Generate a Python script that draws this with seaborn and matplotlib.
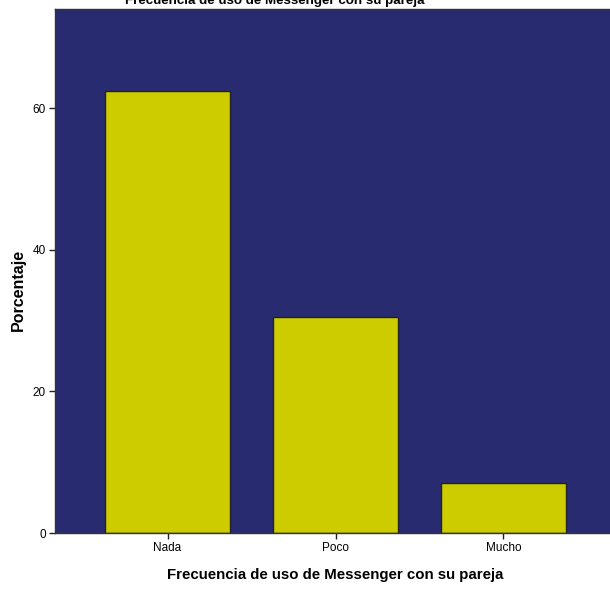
import pandas as pd
import seaborn as sns
import matplotlib.pyplot as plt

categorias = ["Nada", "Poco", "Mucho"]
porcentajes = [62.4, 30.5, 7.1]
yticks = [0, 20, 40, 60]

df = pd.DataFrame({"categoria": categorias, "porcentaje": porcentajes})

sns.set_style("ticks")
plt.rcParams['font.family'] = ['Liberation Sans', 'DejaVu Sans']
plt.rcParams['text.color'] = 'black'
plt.rcParams['axes.labelcolor'] = 'black'
plt.rcParams['xtick.labelcolor'] = 'black'
plt.rcParams['ytick.labelcolor'] = 'black'

fig = plt.figure(figsize=(6.1, 5.93), dpi=100)
ax = fig.add_axes([55 / 610, 60 / 593, 561 / 610, 524 / 593])
ax.set_facecolor("#292b70")

sns.barplot(data=df, x="categoria", y="porcentaje", color="#cccc00",
            saturation=1, width=0.744, edgecolor="#222222", linewidth=1, ax=ax)

ax.set_xlim(-0.67, 2.67)
ax.set_ylim(0, 74)
ax.set_yticks(yticks)
ax.tick_params(axis="both", length=4.5, width=1, color="#222222", labelsize=8.5, pad=2)
for s in ax.spines.values():
    s.set_color("#333333")
    s.set_linewidth(1)

ax.set_xlabel("Frecuencia de uso de Messenger con su pareja",
              fontsize=10.8, fontweight="bold", labelpad=10)
ax.set_ylabel("Porcentaje", fontsize=11.5, fontweight="bold")
ax.yaxis.set_label_coords(-0.052, 0.464)
# titulo recortado arriba, como en la imagen original
fig.text(275 / 610, 1 - 4 / 593, "Frecuencia de uso de Messenger con su pareja",
         ha="center", va="baseline", fontsize=9.6, fontweight="bold")

fig.savefig("out.png", dpi=100)
